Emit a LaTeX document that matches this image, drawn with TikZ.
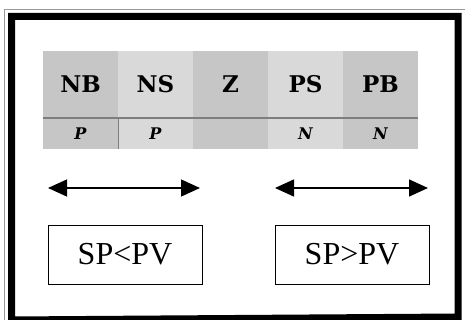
\documentclass[tikz,border=0pt]{standalone}
\usepackage{fontspec}
\setmainfont{Liberation Serif}
\newfontfamily\slabfont{DejaVu Serif}
\usepackage{xcolor}
\usetikzlibrary{arrows.meta}
\definecolor{grigioPieno}{HTML}{C6C6C6}
\definecolor{grigioPuntini}{HTML}{D9D9D9}
\definecolor{grigioLinea}{HTML}{7E7E7E}
\newcommand{\punta}{Triangle[length=19pt, width=17pt]}

\begin{document}
\begin{tikzpicture}[x = 1pt, y = -1pt,
    cella/.style = {inner sep = 0pt, minimum width = 75pt, font = \slabfont\bfseries},
    freccia/.style = {{\punta}-{\punta}, line width = 1.3pt},
    riquadro/.style = {draw, line width = 1pt, minimum width = 154pt, minimum height = 59pt, inner sep = 0pt, font = \fontsize{32}{34}\selectfont}]
    % Parametri
    \pgfmathsetmacro{\xtab}{43}
    \pgfmathsetmacro{\largh}{75}
    \useasboundingbox (0,0) rectangle (465,320);
    % Cornice
    \draw[black!40, line width = 1pt] (4,320) -- (4,10) -- (465,10);
    \draw[line width = 7pt] (11.5,320) -- (11.5,16.5) -- (458,16.5) -- (458,317) -- cycle;
    % Tabella
    \foreach \etichetta/\sotto/\colore [count = \i] in {NB/P/grigioPieno, NS/P/grigioPuntini, Z//grigioPieno, PS/N/grigioPuntini, PB/N/grigioPieno}{
        \node[cella, fill = \colore, minimum height = 67pt, font = \slabfont\bfseries\fontsize{23}{25}\selectfont] (su\i) at ({\xtab+\largh*(\i-0.5)},84.5) {\etichetta};
        \node[cella, fill = \colore, minimum height = 31pt, font = \slabfont\bfseries\itshape\fontsize{16}{18}\selectfont] (giu\i) at ({\xtab+\largh*(\i-0.5)},133.5) {\sotto};
    }
    \draw[grigioLinea, line width = 1.5pt] (su1.south west) -- (su5.south east);
    \draw[grigioLinea, line width = 0.8pt] (giu1.north east) -- (giu1.south east);
    % Frecce
    \coordinate (sx1) at (48,188);
    \coordinate (dx1) at (200,188);
    \coordinate (sx2) at (275,188);
    \coordinate (dx2) at (428,188);
    \draw[freccia] (sx1) -- (dx1);
    \draw[freccia] (sx2) -- (dx2);
    % Riquadri
    \node[riquadro] (minore) at (125,254.5) {SP<PV};
    \node[riquadro] (maggiore) at (352,254.5) {SP>PV};
\end{tikzpicture}
\end{document}
